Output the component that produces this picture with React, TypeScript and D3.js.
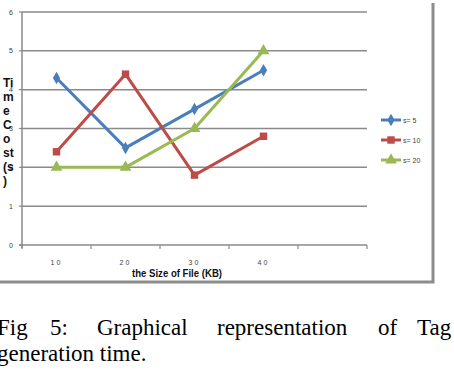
import { useEffect, useRef } from 'react'
import * as d3 from 'd3'

const categories = ['10', '20', '30', '40', '']
const seriesNames = ['s= 5', 's= 10', 's= 20']
const s5 = [4.3, 2.5, 3.5, 4.5]
const s10 = [2.4, 4.4, 1.8, 2.8]
const s20 = [2.0, 2.0, 3.0, 5.0]
const yTicks = [0, 1, 2, 3, 4, 5, 6]
const yTitleParts = ['Ti', 'm', 'e', 'C', 'o', 'st', '(s', ')']
const captionLine1 = ['Fig', '5:', 'Graphical', 'representation', 'of', 'Tag']
const captionLine2 = 'generation time.'

const colors = ['#4a7ebb', '#be4b48', '#98b954']
const shapes = [d3.symbolDiamond, d3.symbolSquare, d3.symbolTriangle]
const symbolSizes = [45, 55, 60]

export default function App() {
  const svgRef = useRef<SVGSVGElement>(null)

  useEffect(() => {
    if (!svgRef.current) return
    const svg = d3.select(svgRef.current)
    svg.selectAll('*').remove()

    const plot = { left: 22, right: 367, top: 12, bottom: 245 }
    const x = d3.scaleBand().domain(categories).range([plot.left, plot.right])
    const y = d3.scaleLinear().domain([0, 6]).range([plot.bottom, plot.top])
    const cx = (c: string) => (x(c) ?? 0) + x.bandwidth() / 2
    const narrow = 'Liberation Sans Narrow, Liberation Sans, sans-serif'

    // gridlines
    svg.append('g')
      .selectAll('line')
      .data(yTicks.filter(t => t > 0))
      .join('line')
      .attr('x1', plot.left).attr('x2', plot.right)
      .attr('y1', d => y(d)).attr('y2', d => y(d))
      .attr('stroke', '#8a8a8a').attr('stroke-width', 1.5)

    // axes
    svg.append('line')
      .attr('x1', plot.left).attr('x2', plot.left)
      .attr('y1', plot.top).attr('y2', plot.bottom + 3)
      .attr('stroke', '#8a8a8a').attr('stroke-width', 1.5)
    svg.append('line')
      .attr('x1', plot.left - 3).attr('x2', plot.right)
      .attr('y1', plot.bottom).attr('y2', plot.bottom)
      .attr('stroke', '#8a8a8a').attr('stroke-width', 1.5)
    svg.append('g')
      .selectAll('line')
      .data([...categories.map(c => x(c) ?? 0), plot.right])
      .join('line')
      .attr('x1', d => d).attr('x2', d => d)
      .attr('y1', plot.bottom).attr('y2', plot.bottom + 4)
      .attr('stroke', '#8a8a8a').attr('stroke-width', 1.2)
    svg.append('g')
      .selectAll('line')
      .data(yTicks)
      .join('line')
      .attr('x1', plot.left - 3).attr('x2', plot.left)
      .attr('y1', d => y(d)).attr('y2', d => y(d))
      .attr('stroke', '#8a8a8a').attr('stroke-width', 1.2)

    // y tick labels
    svg.append('g')
      .selectAll('text')
      .data(yTicks)
      .join('text')
      .attr('x', 13)
      .attr('y', d => y(d) + 2.5)
      .attr('text-anchor', 'end')
      .attr('font-family', narrow)
      .attr('font-size', 7)
      .attr('fill', '#404040')
      .text(d => d)

    // x tick labels
    svg.append('g')
      .selectAll('text')
      .data(categories.filter(c => c !== ''))
      .join('text')
      .attr('x', d => cx(d))
      .attr('y', 265)
      .attr('text-anchor', 'middle')
      .attr('font-family', narrow)
      .attr('font-size', 7)
      .attr('letter-spacing', 2)
      .attr('fill', '#404040')
      .text(d => d)

    // series
    const allSeries = [s5, s10, s20]
    allSeries.forEach((vals, i) => {
      const pts = vals.map((v, j) => [cx(categories[j]), y(v)] as [number, number])
      svg.append('path')
        .attr('d', d3.line()(pts))
        .attr('fill', 'none')
        .attr('stroke', colors[i])
        .attr('stroke-width', 3)
        .attr('stroke-linejoin', 'round')
      svg.append('g')
        .selectAll('path')
        .data(pts)
        .join('path')
        .attr('transform', d => `translate(${d[0]},${d[1]})`)
        .attr('d', d3.symbol().type(shapes[i]).size(symbolSizes[i])())
        .attr('fill', colors[i])
    })

    // y title
    const yTitle = svg.append('text')
      .attr('font-family', narrow)
      .attr('font-weight', 'bold')
      .attr('font-size', 12)
      .attr('fill', '#111')
    yTitleParts.forEach((p, i) => {
      yTitle.append('tspan').attr('x', 3).attr('y', 87 + i * 14).text(p)
    })

    // x title
    svg.append('text')
      .attr('x', 177)
      .attr('y', 277)
      .attr('text-anchor', 'middle')
      .attr('font-family', narrow)
      .attr('font-weight', 'bold')
      .attr('font-size', 11)
      .attr('textLength', 90)
      .attr('lengthAdjust', 'spacingAndGlyphs')
      .attr('fill', '#111')
      .text('the Size of File (KB)')

    // legend
    const legendY = [120, 140, 160]
    seriesNames.forEach((name, i) => {
      const g = svg.append('g').attr('transform', `translate(381,${legendY[i]})`)
      g.append('line')
        .attr('x1', 0).attr('x2', 20)
        .attr('stroke', colors[i]).attr('stroke-width', 3)
      g.append('path')
        .attr('transform', 'translate(10,0)')
        .attr('d', d3.symbol().type(shapes[i]).size(symbolSizes[i])())
        .attr('fill', colors[i])
      g.append('text')
        .attr('x', 22).attr('y', 2.5)
        .attr('font-family', narrow)
        .attr('font-size', 7)
        .attr('fill', '#404040')
        .text(name)
    })

    // chart border (right and bottom)
    svg.append('path')
      .attr('d', 'M433,3 L433,282 L0,282')
      .attr('fill', 'none')
      .attr('stroke', '#8c8c8c')
      .attr('stroke-width', 3)

    // caption
    const serif = 'Liberation Serif, Times New Roman, serif'
    const wordX = [-3, 50, 97, 217, 378, 417]
    svg.append('g')
      .selectAll('text')
      .data(captionLine1)
      .join('text')
      .attr('x', (_, i) => wordX[i])
      .attr('y', 335)
      .attr('font-family', serif)
      .attr('font-size', 23)
      .attr('fill', '#000')
      .text(d => d)
    svg.append('text')
      .attr('x', -3)
      .attr('y', 361)
      .attr('font-family', serif)
      .attr('font-size', 23)
      .attr('fill', '#000')
      .text(captionLine2)
  }, [])

  return (
    <svg
      ref={svgRef}
      width={454}
      height={370}
      style={{ position: 'absolute', left: 0, top: 0, background: '#fff' }}
    />
  )
}
